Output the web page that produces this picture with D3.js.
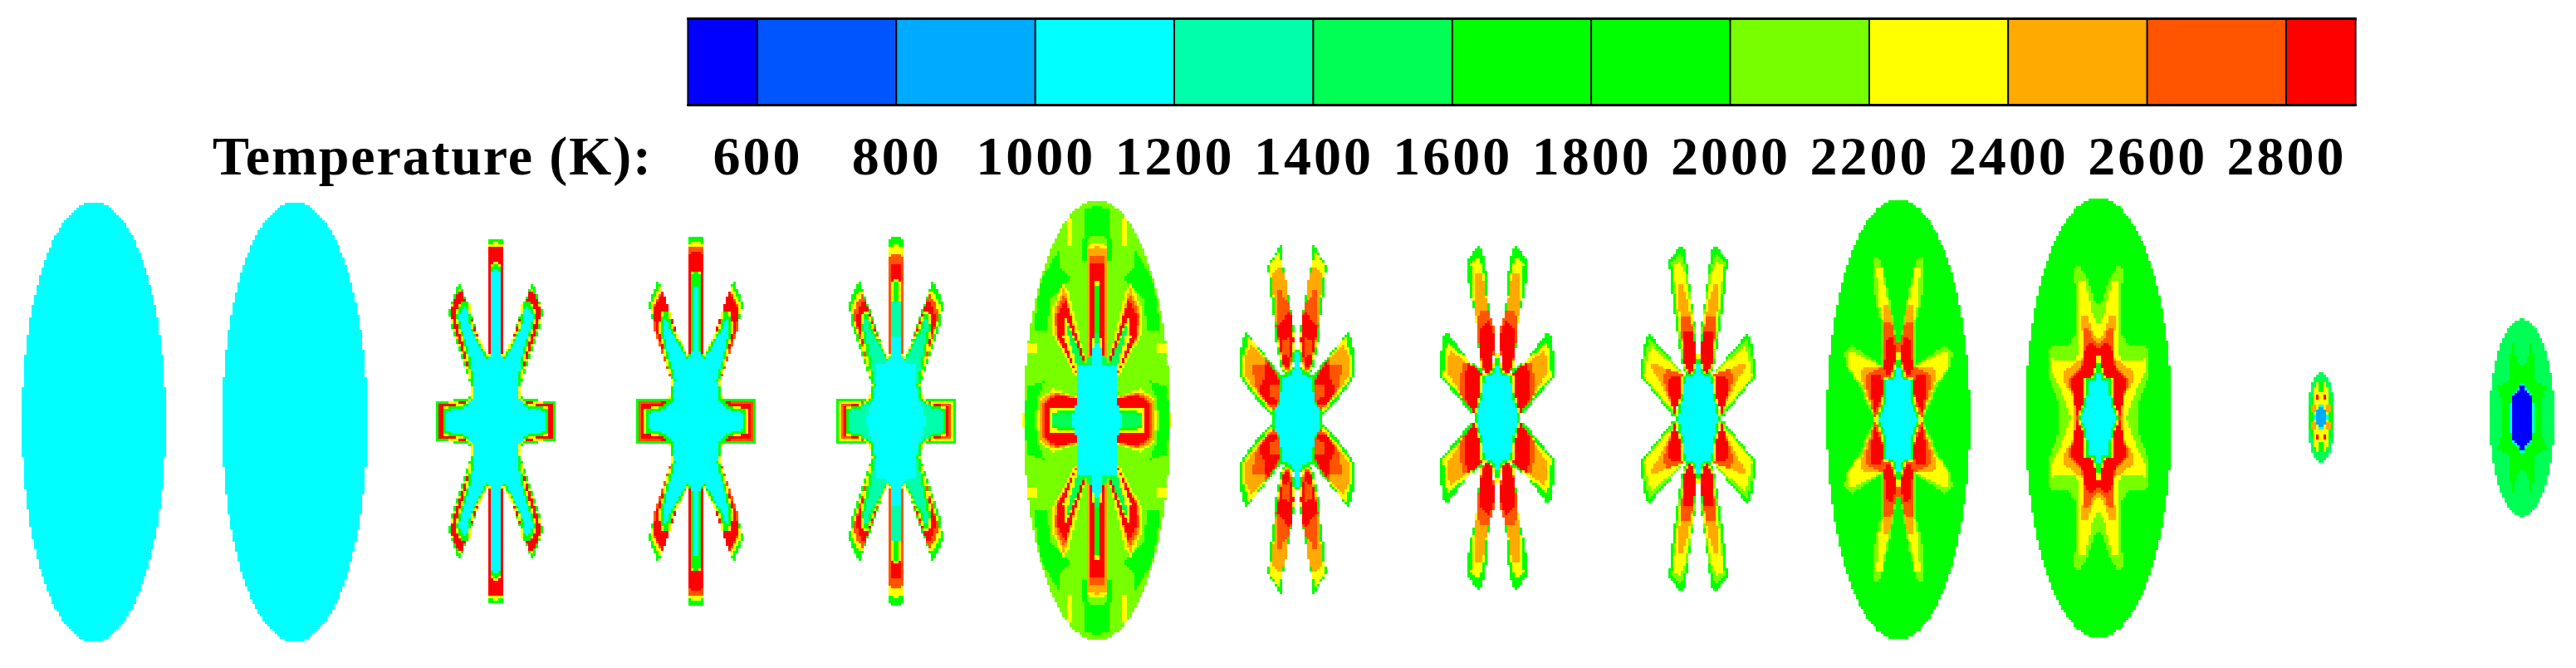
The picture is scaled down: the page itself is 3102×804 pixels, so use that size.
<!DOCTYPE html>
<html><head><meta charset="utf-8">
<style>html,body{margin:0;padding:0;background:#fff}svg{display:block}</style>
<script src="https://cdn.jsdelivr.net/npm/d3@7"></script></head><body>
<svg id="c" width="3102" height="804"></svg>
<script>
// colour legend
const tickLabels=[600,800,1000,1200,1400,1600,1800,2000,2200,2400,2600,2800];
const bandColors=["#0000ff","#0055ff","#00aaff","#00ffff","#00ffaa","#00ff55","#00ff00","#00ff00","#77ff00","#ffff00","#ffaa00","#ff5500","#ff0000"];
const axisTitle="Temperature (K):";
// temperature levels of the contour bands
const B=550,B2=900,C=1100,A=1300,S=1500,G=1900,L=2100,Y=2300,O=2500,Q=2700,R=2850;
// panel frames: centre x, centre y, vertical reading factor
const panelCx=[113,355,597.3,838,1079,1320.7,1561.7,1803.3,2044.7,2286.3,2527,2795,3036.7];
const panelCy=[508,508,507,507,507,506,505,503,504,505,502.6,502.3,503];
const panelKy=[3,3,3,3,3,2.8,3,3,3,2.8,2.8,3,3];
// base ellipse of each panel [T, half width, half height]
const panelBase=[[C,260,795],[C,262,795],null,null,null,[L,265,742],null,null,null,[G,259,743],[G,264,742],[S,48,162],[S,117,357]];
// contour layers [T, quarter outline, optional rim T]
const p3=[
[G,[[0,660],[22,660],[28,640],[28,238],[34,232],[133,506],[153,448],[170,398],[163,353],[78,98],[78,88],[213,68],[216,0]]],
[Y,[[0,650],[25,635],[25,228],[34,228],[128,485],[150,440],[165,398],[158,350],[73,98],[73,80],[208,62],[210,0]]],
[R,[[0,636],[24,628],[24,222],[36,222],[124,478],[150,440],[162,398],[155,350],[71,100],[71,74],[204,60],[204,0]]],
[G,[[0,572],[16,560],[16,240],[32,232],[88,338],[100,430],[122,430],[143,380],[131,338],[102,238],[85,125],[85,80],[115,58],[188,46],[188,0]],Y],
[C,[[0,553],[14,540],[14,245],[35,225],[93,338],[105,412],[118,415],[136,378],[125,338],[95,238],[78,130],[78,90],[110,50],[180,38],[180,0]]]];
const p4=[
[G,[[0,662],[26,662],[28,640],[28,236],[36,232],[136,509],[158,460],[171,420],[146,320],[76,100],[76,80],[216,80],[216,0]]],
[Y,[[0,650],[26,640],[26,228],[34,228],[130,485],[156,440],[165,415],[140,320],[72,100],[72,74],[208,72],[208,0]]],
[Q,[[0,635],[25,625],[25,225],[36,225],[126,470],[152,420],[154,340],[72,100],[72,72],[205,68],[205,0]]],
[R,[[0,612],[25,604],[25,225],[36,225],[120,470],[150,410],[148,340],[70,100],[70,72],[198,62],[198,0]]],
[G,[[0,540],[14,530],[16,245],[30,232],[88,338],[100,395],[118,395],[130,338],[108,238],[84,150],[88,85],[120,52],[180,40],[180,0]],Y],
[C,[[0,486],[10,480],[12,250],[32,225],[96,338],[108,372],[118,372],[120,338],[100,238],[76,150],[80,80],[116,44],[172,28],[172,0]]]];
const p5=[
[G,[[0,662],[22,662],[27,640],[27,235],[36,230],[132,510],[155,470],[170,420],[160,350],[76,100],[76,85],[216,80],[216,0]]],
[Y,[[0,640],[25,625],[25,228],[36,225],[126,480],[150,440],[162,410],[152,350],[72,100],[72,78],[208,72],[208,0]]],
[Q,[[0,610],[25,595],[25,222],[36,222],[120,465],[144,420],[154,380],[74,100],[70,72],[196,62],[196,0]]],
[R,[[0,570],[20,565],[18,536],[20,225],[36,222],[116,445],[138,395],[146,370],[72,100],[68,70],[185,56],[185,0]]],
[G,[[0,515],[10,500],[14,245],[32,228],[88,338],[104,390],[116,390],[124,338],[104,238],[84,130],[92,86],[125,56],[176,46],[176,0]],Y],
[A,[[0,430],[14,430],[16,235],[36,222],[95,338],[104,370],[112,370],[116,338],[96,238],[76,130],[84,82],[125,50],[170,38],[170,0]]],
[C,[[0,310],[18,300],[22,225],[40,205],[70,205],[76,130],[78,80],[100,50],[105,0]]]];
const p6=[
[Y,[[88,680],[112,680],[112,590],[88,590]]],
[Y,[[213,260],[248,260],[248,225],[213,225]]],
[Y,[[245,25],[266,25],[266,0],[245,0]]],
[G,[[0,722],[42,712],[42,640],[52,600],[52,540],[40,540],[40,600],[25,625],[0,625]]],
[G,[[138,572],[198,482],[218,392],[226,302],[178,302],[173,402],[98,477],[138,522]]],
[G,[[188,135],[248,115],[258,60],[258,0],[225,0],[213,80]]],
[Y,[[0,597],[30,595],[38,570],[38,187],[105,440],[123,462],[163,372],[160,290],[75,145],[75,82],[158,107],[210,75],[213,0]]],
[O,[[0,585],[32,580],[32,170],[42,170],[118,450],[155,370],[150,290],[68,145],[68,76],[155,98],[205,68],[205,0]]],
[Q,[[0,555],[29,550],[29,175],[42,172],[118,430],[150,360],[147,285],[66,145],[66,72],[150,92],[196,60],[196,0]]],
[R,[[0,532],[28,528],[28,180],[38,180],[115,410],[146,345],[143,280],[65,145],[65,70],[146,88],[190,55],[190,0]]],
[Y,[[0,470],[12,465],[14,220],[22,195],[45,190],[108,342],[118,342],[122,280],[70,150],[75,44],[172,38],[172,0]]],
[G,[[0,455],[9,450],[10,240],[24,190],[46,195],[106,325],[112,322],[66,160],[72,34],[162,28],[162,0]]],
[S,[[0,300],[8,290],[14,230],[46,190],[106,315],[110,310],[70,170],[75,26],[158,20],[158,0]]],
[C,[[0,270],[12,250],[23,182],[73,182],[68,72],[93,0]]]];
const p7=[
[G,[[60,630],[105,555],[100,485],[85,375],[77,285],[55,175],[25,155],[13,205],[5,290],[25,415],[50,555],[50,610]]],
[Y,[[63,613],[100,555],[90,485],[78,375],[71,275],[50,180],[27,165],[17,205],[10,290],[30,415],[55,555]]],
[O,[[65,555],[90,525],[83,405],[70,290],[48,185],[30,170],[20,205],[13,295],[35,445],[43,525]]],
[Q,[[55,470],[68,465],[77,335],[65,275],[50,195],[32,175],[23,205],[13,285],[25,415],[50,445]]],
[R,[[30,390],[75,330],[63,275],[50,195],[33,180],[25,205],[13,285],[18,370]]],
[Q,[[25,295],[55,285],[50,235],[30,225]]],
[G,[[185,315],[200,290],[210,160],[150,75],[95,15],[65,45],[55,155],[125,245]]],
[Y,[[175,295],[193,235],[200,160],[145,85],[95,30],[67,55],[60,145],[130,245]]],
[O,[[170,270],[187,225],[187,155],[140,95],[100,45],[70,65],[63,150],[120,225]]],
[Q,[[160,200],[155,130],[130,85],[90,35],[65,55],[60,145],[110,220],[120,200]]],
[R,[[110,215],[117,155],[140,100],[100,50],[70,50],[60,135]]],
[Q,[[60,125],[95,130],[95,85],[67,65]]],
[G,[[0,255],[8,250],[10,195],[24,170],[58,155],[62,100],[66,62],[90,30],[90,0]]],
[C,[[0,245],[6,240],[8,190],[20,165],[55,150],[58,100],[62,60],[85,30],[85,0]]]];
const p8=[
[G,[[65,625],[108,570],[102,460],[85,390],[75,330],[68,270],[65,180],[30,155],[15,180],[10,320],[30,390],[40,530],[55,610]]],
[Y,[[65,580],[95,560],[90,460],[75,330],[65,270],[60,180],[32,160],[18,180],[12,320],[35,390],[48,520]]],
[O,[[55,525],[82,525],[78,390],[73,330],[58,270],[50,180],[20,180],[15,320],[35,400]]],
[Q,[[32,390],[60,390],[75,340],[68,270],[55,180],[35,155],[15,180],[10,320]]],
[R,[[30,355],[40,340],[65,320],[65,250],[52,180],[35,158],[15,180],[12,300]]],
[G,[[180,310],[200,285],[208,150],[130,60],[90,10],[55,50],[55,170],[110,215]]],
[Y,[[180,275],[190,230],[195,150],[125,70],[85,20],[58,50],[58,165],[120,220]]],
[O,[[170,245],[185,190],[180,160],[125,80],[90,30],[60,50],[60,160],[120,205]]],
[Q,[[120,205],[135,150],[130,70],[90,30],[60,50],[60,160]]],
[R,[[58,165],[105,200],[120,135],[120,80],[88,20],[58,45]]],
[G,[[0,235],[12,180],[24,160],[54,155],[58,92],[80,5],[80,0]],Y],
[C,[[0,215],[8,175],[20,155],[48,150],[52,90],[75,5],[75,0]]]];
const p9=[
[G,[[61,627],[106,572],[101,512],[91,422],[71,272],[56,182],[31,152],[14,182],[11,327],[36,522],[48,612]]],
[L,[[63,600],[96,565],[92,512],[80,400],[66,272],[54,185],[31,155],[16,182],[13,327],[40,522]]],
[Y,[[66,567],[91,552],[71,342],[51,192],[31,157],[16,182],[14,322],[46,522]]],
[O,[[63,497],[74,462],[64,342],[51,202],[31,162],[16,182],[14,302],[41,432]]],
[Q,[[31,372],[61,372],[61,322],[51,202],[31,162],[16,182],[14,302]]],
[R,[[21,317],[51,317],[51,202],[31,162],[14,182],[11,262]]],
[G,[[181,312],[201,247],[206,152],[86,2],[61,172]]],
[L,[[176,285],[192,240],[200,152],[86,12],[64,172]]],
[Y,[[171,262],[196,152],[86,22],[66,172]]],
[O,[[171,202],[166,182],[91,42],[64,162]]],
[Q,[[116,182],[126,142],[91,32],[56,162]]],
[R,[[101,157],[111,112],[86,17],[54,102],[54,157]]],
[G,[[0,235],[14,175],[28,160],[54,155],[58,92],[78,5],[78,0]],Y],
[C,[[0,215],[10,170],[25,155],[48,150],[52,90],[71,3],[71,0]]]];
const p10=[
[L,[[0,262],[6,255],[38,440],[70,546],[88,546],[86,421],[62,321],[60,181],[170,252],[196,225],[190,180],[140,110],[88,0]]],
[Y,[[0,262],[6,255],[45,430],[58,510],[78,510],[72,400],[55,320],[55,176],[168,228],[180,228],[178,170],[130,115],[84,0]]],
[O,[[0,262],[8,258],[34,385],[52,386],[52,180],[130,176],[132,130],[110,70],[80,0]]],
[Q,[[0,262],[8,258],[24,330],[50,330],[52,180],[112,155],[115,110],[90,20],[84,0]]],
[R,[[6,232],[24,282],[40,275],[52,180],[45,155],[28,155],[12,195]]],
[R,[[60,150],[95,148],[98,85],[85,20],[78,40],[55,90]]],
[G,[[0,222],[12,170],[24,140],[50,136],[54,60],[76,5],[76,0]],Y],
[C,[[0,200],[8,160],[16,132],[42,132],[46,60],[68,5],[68,0]]]];
const p11=[
[L,[[0,388],[12,390],[45,480],[68,513],[86,508],[84,283],[108,245],[168,243],[184,225],[184,150],[142,40],[140,0]]],
[Y,[[0,308],[22,350],[48,463],[74,463],[68,233],[84,195],[153,193],[168,198],[168,153],[123,65],[102,0]]],
[O,[[0,268],[14,275],[43,348],[60,348],[56,203],[123,158],[123,123],[90,65],[90,0]]],
[Q,[[0,250],[20,260],[33,303],[50,303],[60,170],[110,130],[108,110],[83,63],[80,0]]],
[R,[[0,237],[35,255],[50,230],[60,170],[96,130],[94,75],[78,20],[76,0]]],
[G,[[0,208],[8,170],[20,135],[48,130],[50,50],[72,0]],Y],
[C,[[0,175],[10,125],[38,125],[42,45],[66,0]]]];
const p12=[
[G,[[0,130],[22,100],[42,40],[44,0]]],
[Y,[[0,70],[14,125],[22,125],[24,70],[32,35],[30,0]]],
[R,[[6,85],[16,85],[16,65],[6,65]]],
[O,[[22,45],[32,45],[32,20],[22,20]]],
[C,[[0,55],[12,30],[24,5],[24,0]]],
[B2,[[0,48],[10,30],[22,5],[22,0]]]];
const p13=[
[G,[[0,185],[18,200],[30,275],[40,270],[42,135],[92,115],[70,60],[70,0]]],
[C,[[0,135],[10,115],[35,90],[45,30],[45,0]]],
[B,[[0,125],[8,105],[30,85],[38,40],[40,0]]]];
const panelLayers=[[],[],p3,p4,p5,p6,p7,p8,p9,p10,p11,p12,p13];

const svg=d3.select("#c");
const serif="'Liberation Serif'";
const tempX=d3.scaleLinear().domain([600,2800]).range([912,2753]);
const color=d3.scaleThreshold().domain(tickLabels).range(bandColors);
const edges=[500].concat(tickLabels,[2900]);

// legend
svg.append("g").selectAll("rect").data(d3.pairs(edges)).join("rect")
 .attr("x",d=>tempX(d[0])).attr("width",d=>tempX(d[1])-tempX(d[0]))
 .attr("y",22.5).attr("height",104)
 .attr("fill",d=>color((d[0]+d[1])/2)).attr("stroke","#000").attr("stroke-width",1.8);
[22.5,126.5].forEach(y=>svg.append("line").attr("x1",tempX(500)-1).attr("x2",tempX(2900)+1).attr("y1",y).attr("y2",y).attr("stroke","#000").attr("stroke-width",3.2));
const axis=d3.axisBottom(tempX).tickValues(tickLabels).tickSize(0).tickPadding(0).tickFormat(d3.format("d"));
const ag=svg.append("g").attr("transform","translate(0,163)").call(axis);
ag.select(".domain").remove();
ag.selectAll("text").attr("font-family",serif).attr("font-weight","bold").attr("font-size",66).attr("letter-spacing",3).attr("fill","#000");
svg.append("text").text(axisTitle).attr("x",256).attr("y",210).attr("textLength",528).attr("lengthAdjust","spacing")
 .attr("font-family",serif).attr("font-weight","bold").attr("font-size",66).attr("fill","#000");

// panels: the contours are sampled on the 3 px mesh of the solver grid
const cell=3, rimWidth=1.7;
function segDist(p,a,b){
  const vx=b[0]-a[0],vy=b[1]-a[1],wx=p[0]-a[0],wy=p[1]-a[1];
  const t=Math.max(0,Math.min(1,(wx*vx+wy*vy)/(vx*vx+vy*vy||1)));
  return Math.hypot(wx-t*vx,wy-t*vy);
}
panelCx.forEach((cx,i)=>{
  const cy=panelCy[i],k=panelKy[i],base=panelBase[i],layers=panelLayers[i];
  const sx=d3.scaleLinear().domain([0,3]).range([cx,cx+1]);
  const sy=d3.scaleLinear().domain([0,k]).range([cy,cy-1]);
  const prep=layers.map(l=>{
    const q=l[1],ring=q[0][0]===0&&q[q.length-1][1]===0;
    return {t:l[0],q,poly:ring?q.concat([[0,0]]):q,rim:l[2]};
  });
  const reach=d3.max(layers.flatMap(l=>l[1]),p=>p[0])||0;
  const reachY=d3.max(layers.flatMap(l=>l[1]),p=>p[1])||0;
  const W=Math.max(base?base[1]:0,reach)/3+cell, H=Math.max(base?base[2]:0,reachY)/k+cell;
  const nx=Math.ceil(W/cell), ny=Math.ceil(H/cell);
  const sample=(u,v)=>{
    let t=null;
    if(base&&(u/base[1])**2+(v/base[2])**2<=1) t=base[0];
    for(const l of prep){
      if(d3.polygonContains(l.poly,[u,v])) t=l.t;
      else if(l.rim){
        let d=1e9;
        for(let j=0;j<l.q.length-1;j++) d=Math.min(d,segDist([u/3,v/k],[l.q[j][0]/3,l.q[j][1]/k],[l.q[j+1][0]/3,l.q[j+1][1]/k]));
        if(d<=rimWidth) t=l.rim;
      }
    }
    return t;
  };
  const runs=[];
  for(let r=-ny;r<ny;r++){
    const v=Math.abs((r+.5)*cell)*k;
    let start=null,cur=null;
    for(let c=-nx;c<=nx;c++){
      const u=Math.abs((c+.5)*cell)*3;
      const t=c<nx?sample(u,v):null;
      if(t!==cur){
        if(cur!==null) runs.push({t:cur,a:start*cell*3,b:c*cell*3,r});
        start=c;cur=t;
      }
    }
  }
  svg.append("g").attr("shape-rendering","crispEdges").selectAll("rect").data(runs).join("rect")
   .attr("x",d=>sx(d.a)).attr("width",d=>sx(d.b)-sx(d.a))
   .attr("y",d=>sy(-d.r*cell*k)).attr("height",cell+.3)
   .attr("fill",d=>color(d.t));
});
</script></body></html>
